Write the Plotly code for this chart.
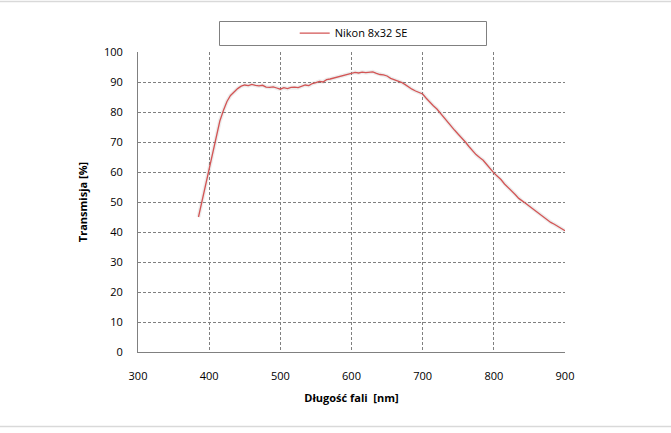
import plotly.graph_objects as go

wavelength_nm = list(range(385, 905, 5))
transmission_pct = [
    45.0, 50.5, 56.0, 60.5, 66.0, 71.5, 77.0, 80.5, 83.5, 85.5,
    86.8, 87.8, 88.6, 89.0, 88.8, 89.2, 88.9, 88.7, 88.9, 88.3,
    88.2, 88.4, 88.0, 87.6, 88.1, 87.8, 88.2, 88.3, 88.1, 88.6,
    89.0, 88.8, 89.5, 89.8, 90.2, 90.0, 90.8, 91.0, 91.3, 91.8,
    92.0, 92.2, 92.6, 92.9, 93.2, 93.0, 93.3, 93.1, 93.2, 93.4,
    92.9, 92.5, 92.4, 92.0, 91.2, 90.8, 90.4, 89.9, 89.2, 88.3,
    87.6, 87.0, 86.5, 86.0, 84.6, 83.2, 82.1, 81.0, 79.5, 78.0,
    76.6, 75.3, 73.9, 72.6, 71.4, 70.0, 68.5, 67.0, 65.8, 64.8,
    63.9, 62.5, 61.0, 59.7, 58.6, 57.5, 56.0, 54.9, 53.7, 52.5,
    51.2, 50.2, 49.5, 48.6, 47.7, 46.8, 46.0, 44.9, 43.9, 43.2,
    42.6, 41.9, 41.1, 40.4,
]
series_name = "Nikon 8x32 SE"
x_ticks = [300, 400, 500, 600, 700, 800, 900]
y_ticks = [0, 10, 20, 30, 40, 50, 60, 70, 80, 90, 100]

FONT = "Open Sans"
fig = go.Figure()
# soft shadow under the line
fig.add_trace(go.Scatter(x=wavelength_nm, y=transmission_pct, mode="lines",
                         line=dict(color="rgba(0,0,0,0.07)", width=4),
                         hoverinfo="skip", showlegend=False))
fig.add_trace(go.Scatter(x=wavelength_nm, y=transmission_pct, mode="lines",
                         name=series_name,
                         line=dict(color="#d35555", width=1.3)))

fig.update_layout(
    width=671, height=433,
    margin=dict(l=138, r=106, t=52, b=81, autoexpand=False),
    paper_bgcolor="white", plot_bgcolor="white",
    font=dict(family=FONT, size=11, color="black"),
    showlegend=True,
    legend=dict(x=0.367, y=1.063, xanchor="left", yanchor="middle",
                bgcolor="rgba(0,0,0,0)", borderwidth=0,
                font=dict(family=FONT, size=11, color="black"),
                itemwidth=30),
    xaxis=dict(range=[300, 900], tickvals=x_ticks, showline=True,
               linecolor="#808080", linewidth=1, showgrid=True,
               gridcolor="#808080", gridwidth=1, griddash="3px,2px",
               zeroline=False, ticks="", ticklabelstandoff=14,
               title=dict(text="<b>Długość fali  [nm]</b>", standoff=12,
                          font=dict(family=FONT, size=11))),
    yaxis=dict(range=[0, 100], tickvals=y_ticks, showline=True,
               linecolor="#808080", linewidth=1, showgrid=True,
               gridcolor="#808080", gridwidth=1, griddash="3px,2px",
               zeroline=False, ticks="", ticklabelstandoff=12,
               title=dict(text="<b>Transmisja [%]</b>", standoff=14,
                          font=dict(family=FONT, size=11))),
)

# legend frame
fig.add_shape(type="rect", xref="paper", yref="paper",
              x0=(219.5 - 138) / 427, x1=(486.5 - 138) / 427,
              y0=(352 - 45.5) / 300, y1=(352 - 21.5) / 300,
              line=dict(color="#808080", width=1), fillcolor="rgba(0,0,0,0)")
# outer separator lines
for py in (1.5, 426.5):
    fig.add_shape(type="line", xref="paper", yref="paper",
                  x0=-138 / 427, x1=(671 - 138) / 427,
                  y0=(352 - py) / 300, y1=(352 - py) / 300,
                  line=dict(color="#d9d9d9", width=1.5))

fig.write_html("out.html", config={"displayModeBar": False},
               post_script="document.body.style.margin='0';")
